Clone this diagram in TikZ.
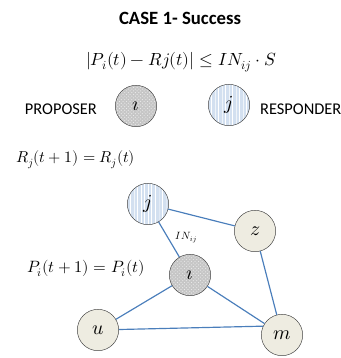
\documentclass[tikz,border=0pt]{standalone}
\usepackage{unicode-math}
\setmainfont{Carlito}
\setmathfont{Latin Modern Math}
\usepackage{xcolor}
\usepackage{tikz}
\usetikzlibrary{positioning, patterns}

\definecolor{linkblue}{HTML}{4A7EBB}
\definecolor{beige}{HTML}{EEECE1}
\definecolor{paleblue}{HTML}{D3E0F0}
\definecolor{greyfill}{HTML}{C6C6C6}

\begin{document}
\begin{tikzpicture}[x=0.03cm, y=-0.03cm, node distance=0.4cm, on grid,
        agent/.style={circle, draw=black!75, thin, minimum size=1.24cm, inner sep=0pt, font=\fontsize{17}{19}\selectfont},
        proposer/.style={agent, preaction={fill=greyfill}, pattern=crosshatch dots, pattern color=black!8},
        responder/.style={agent, preaction={fill=paleblue}, pattern=vertical lines, pattern color=white},
        other/.style={agent, fill=beige},
        link/.style={draw=linkblue, line width=1pt}]
        \useasboundingbox (0,0) rectangle (341,358);

        \node[font=\bfseries\fontsize{16}{18}\selectfont] (title) at (180,18) {CASE 1- Success};
        \node[font=\fontsize{15}{17}\selectfont] (cond) at (181,62) {$|P_i(t) - Rj(t)| \leq IN_{ij} \cdot S$};

        \node[proposer] (Li) at (136,106) {$\imath$};
        \node[responder] (Lj) at (229,105) {$j$};
        \node[font=\fontsize{14}{16}\selectfont, anchor=east] (prop) at (101,109) {PROPOSER};
        \node[font=\fontsize{14}{16}\selectfont, anchor=west] (resp) at (256,109) {RESPONDER};

        \node[font=\fontsize{13.5}{15}\selectfont, anchor=west] (rupd) at (12,160) {$R_j(t+1) = R_j(t)$};
        \node[font=\fontsize{14}{16}\selectfont, anchor=west] (pupd) at (23,268) {$P_i(t+1) = P_i(t)$};

        \node[responder] (j) at (148,204) {$j$};
        \node[other]     (z) at (255,231) {$z$};
        \node[proposer]  (i) at (190,275) {$\imath$};
        \node[other]     (u) at (98,330)  {$u$};
        \node[other]     (m) at (282,335) {$m$};

        \path[link]
        (j) edge node[pos=0.45, anchor=west, xshift=3pt, font=\small, text=black] {$IN_{ij}$} (i)
        (j) edge (z)
        (z) edge (m)
        (i) edge (u)
        (i) edge (m)
        (u) edge (m.155);
\end{tikzpicture}
\end{document}
